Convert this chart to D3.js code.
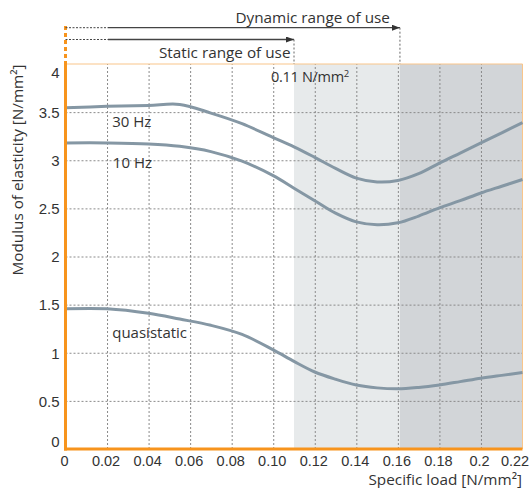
<!DOCTYPE html>
<html>
<head>
<meta charset="utf-8">
<script src="https://cdn.jsdelivr.net/npm/d3@7"></script>
<style>
  body { margin: 0; background: #fff; }
  svg { display: block; font-family: "Open Sans", "Noto Sans", sans-serif; }
  .tick text { fill: #333; }
  .grid line { stroke: #8a8a8a; stroke-dasharray: 2,2; stroke-width: 1; }
  .grid .domain { display: none; }
</style>
</head>
<body>
<svg id="chart" width="532" height="488"></svg>
<script>
    'use strict';

    // specific load [N/mm2]
    var load = [0, 0.02, 0.04, 0.055, 0.07, 0.085, 0.10, 0.11, 0.12, 0.13, 0.14,
        0.15, 0.16, 0.17, 0.18, 0.19, 0.20, 0.21, 0.22];
    // modulus of elasticity [N/mm2]
    var hz30 = [3.545, 3.56, 3.57, 3.58, 3.49, 3.38, 3.235, 3.14, 3.03, 2.915, 2.815,
        2.775, 2.79, 2.86, 2.97, 3.075, 3.18, 3.285, 3.39];
    var hz10 = [3.18, 3.18, 3.17, 3.145, 3.09, 2.99, 2.84, 2.71, 2.58, 2.45, 2.36,
        2.33, 2.35, 2.42, 2.505, 2.58, 2.66, 2.73, 2.80];
    var quasi = [1.457, 1.457, 1.41, 1.35, 1.285, 1.19, 1.03, 0.91, 0.80, 0.725, 0.665,
        0.635, 0.625, 0.64, 0.666, 0.70, 0.735, 0.765, 0.794];

    var xTicks = [0, 0.02, 0.04, 0.06, 0.08, 0.10, 0.12, 0.14, 0.16, 0.18, 0.20, 0.22];
    var xTickLabels = ['0', '0.02', '0.04', '0.06', '0.08', '0.10', '0.12', '0.14', '0.16', '0.18', '0.2', '0.22'];
    var yTicks = [0, 0.5, 1, 1.5, 2, 2.5, 3, 3.5, 4];
    var yTickLabels = ['0', '0.5', '1', '1.5', '2', '2.5', '3', '3.5', '4'];

    var staticLimit = 0.11;
    var dynamicLimit = 0.161;

    var series = [
        { name: '30 Hz', values: hz30, labelX: 0.0225, labelY: 3.35 },
        { name: '10 Hz', values: hz10, labelX: 0.0228, labelY: 2.915 },
        { name: 'quasistatic', values: quasi, labelX: 0.0225, labelY: 1.15 }
    ];

    var svg = d3.select('#chart');
    var x = d3.scaleLinear().domain([0, 0.22]).range([65.5, 522.5]);
    var y = d3.scaleLinear().domain([0, 4]).range([449, 64]);

    var orange = '#f7941d';
    var curveColor = '#8597a4';
    var textColor = '#333';

    // shaded ranges
    svg.append('rect')
        .attr('x', x(staticLimit)).attr('y', y(4))
        .attr('width', x(dynamicLimit) - x(staticLimit)).attr('height', y(0) - y(4))
        .style('fill', '#e7eaeb');
    svg.append('rect')
        .attr('x', x(dynamicLimit)).attr('y', y(4))
        .attr('width', x(0.22) - x(dynamicLimit)).attr('height', y(0) - y(4))
        .style('fill', '#d2d5d8');

    // grid
    svg.append('g')
        .classed('grid', true)
        .attr('transform', 'translate(0,' + y(0) + ')')
        .call(d3.axisBottom(x).tickValues(xTicks.slice(1, -1)).tickSize(-(y(0) - y(4))).tickFormat(''));
    svg.append('g')
        .classed('grid', true)
        .attr('transform', 'translate(' + x(0) + ',0)')
        .call(d3.axisLeft(y).tickValues(yTicks.slice(1, -1)).tickSize(-(x(0.22) - x(0))).tickFormat(''));

    // frame
    svg.append('line')
        .attr('x1', x(0)).attr('x2', x(0.22)).attr('y1', y(4)).attr('y2', y(4))
        .style('stroke', '#f9c58a').style('stroke-width', 1);
    svg.append('line')
        .attr('x1', x(0.22)).attr('x2', x(0.22)).attr('y1', y(4)).attr('y2', y(0))
        .style('stroke', '#f9c58a').style('stroke-width', 1);

    // curves
    var line = d3.line()
        .x(function (d, i) { return x(load[i]); })
        .y(function (d) { return y(d); })
        .curve(d3.curveCatmullRom.alpha(0.5));

    series.forEach(function (s) {
        svg.append('path')
            .datum(s.values)
            .attr('d', line)
            .style('fill', 'none')
            .style('stroke', curveColor)
            .style('stroke-width', 3);

        svg.append('text')
            .attr('x', x(s.labelX)).attr('y', y(s.labelY))
            .style('font-size', '15px')
            .style('fill', textColor)
            .text(s.name);
    });

    // axes
    var xAxis = svg.append('g')
        .attr('transform', 'translate(0,' + y(0) + ')')
        .call(d3.axisBottom(x).tickValues(xTicks).tickSize(0).tickPadding(7)
            .tickFormat(function (d, i) { return xTickLabels[i]; }));
    xAxis.select('.domain').remove();
    xAxis.selectAll('.tick text')
        .style('font-size', '14.5px')
        .attr('dx', function (d) { return d === 0.22 ? -8 : (d === 0.20 ? -2 : -1.5); });

    var yAxis = svg.append('g')
        .attr('transform', 'translate(' + x(0) + ',0)')
        .call(d3.axisLeft(y).tickValues(yTicks).tickSize(0).tickPadding(6)
            .tickFormat(function (d, i) { return yTickLabels[i]; }));
    yAxis.select('.domain').remove();
    yAxis.selectAll('.tick text')
        .style('font-size', '15px')
        .attr('dy', function (d) {
            if (d === 4) return '0.9em';
            if (d === 0) return '-0.15em';
            return '0.35em';
        });

    svg.append('line')
        .attr('x1', x(0) - 1.5).attr('x2', x(0.22)).attr('y1', y(0)).attr('y2', y(0))
        .style('stroke', orange).style('stroke-width', 3);
    svg.append('line')
        .attr('x1', x(0)).attr('x2', x(0)).attr('y1', y(4)).attr('y2', y(0) + 1.5)
        .style('stroke', orange).style('stroke-width', 3);
    // dashed extension of the y axis
    svg.append('line')
        .attr('x1', x(0)).attr('x2', x(0)).attr('y1', 26).attr('y2', y(4))
        .style('stroke', orange).style('stroke-width', 3)
        .style('stroke-dasharray', '4,3');

    // axis titles
    svg.append('text')
        .attr('x', 522).attr('y', 485)
        .attr('text-anchor', 'end')
        .style('font-size', '15.3px').style('fill', textColor)
        .text('Specific load [N/mm²]');
    svg.append('text')
        .attr('transform', 'translate(23,170) rotate(-90)')
        .attr('text-anchor', 'middle')
        .style('font-size', '15.3px').style('fill', textColor)
        .text('Modulus of elasticity [N/mm²]');

    // ranges of use
    var defs = svg.append('defs');
    defs.append('marker')
        .attr('id', 'arrow')
        .attr('viewBox', '0 0 8 6')
        .attr('refX', 8).attr('refY', 3)
        .attr('markerWidth', 8).attr('markerHeight', 6)
        .attr('markerUnits', 'userSpaceOnUse')
        .attr('orient', 'auto')
        .append('path')
        .attr('d', 'M0,0L8,3L0,6Z')
        .style('fill', '#333');

    function renderRange(limit, yPos, label, labelY, labelGap) {
        svg.append('line')
            .attr('x1', x(0)).attr('x2', 108).attr('y1', yPos).attr('y2', yPos)
            .style('stroke', '#444').style('stroke-width', 1).style('stroke-dasharray', '2,1.5');
        svg.append('line')
            .attr('x1', 108).attr('x2', x(limit)).attr('y1', yPos).attr('y2', yPos)
            .style('stroke', '#444').style('stroke-width', 1.3)
            .attr('marker-end', 'url(#arrow)');
        svg.append('line')
            .attr('x1', x(limit)).attr('x2', x(limit)).attr('y1', yPos).attr('y2', y(4))
            .style('stroke', '#666').style('stroke-width', 1).style('stroke-dasharray', '2,2');
        svg.append('text')
            .attr('x', x(limit) - labelGap).attr('y', labelY)
            .attr('text-anchor', 'end')
            .style('font-size', '15.3px').style('fill', textColor)
            .text(label);
    }

    renderRange(dynamicLimit, 27.7, 'Dynamic range of use', 23, 10);
    renderRange(staticLimit, 39.5, 'Static range of use', 58, 3.5);

    var limitLabel = svg.append('text')
        .attr('x', 271).attr('y', 82)
        .style('font-size', '14.5px').style('fill', textColor)
        .style('letter-spacing', '-0.3px');
    limitLabel.append('tspan').text('0.11 N/mm');
    limitLabel.append('tspan').attr('dy', -5).style('font-size', '9.5px').text('2');
</script>
</body>
</html>
